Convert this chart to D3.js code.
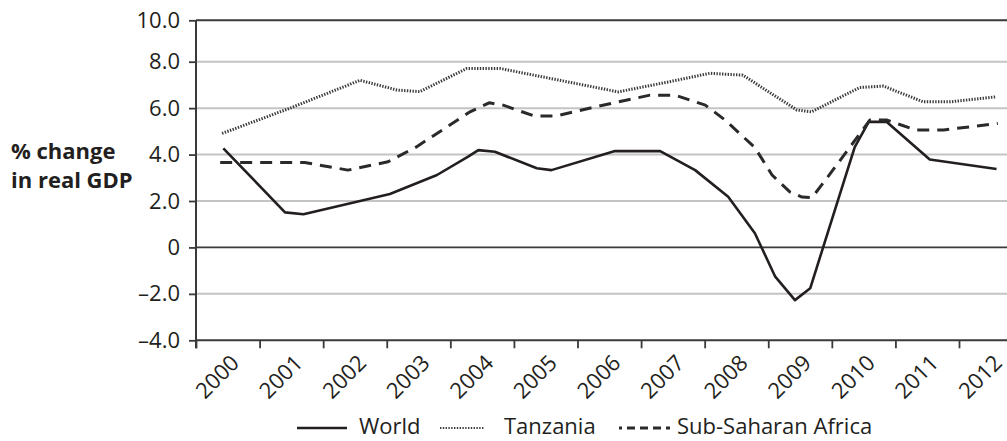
<!DOCTYPE html>
<html>
<head>
<meta charset="utf-8">
<script src="https://cdn.jsdelivr.net/npm/d3@7"></script>
<style>
  html, body { margin: 0; padding: 0; background: #fff; }
  svg { display: block; font-family: "Open Sans", sans-serif; }
</style>
</head>
<body>
<svg id="chart" width="1007" height="441"></svg>
<script>
// ---- Data (fractional-year vertices) ----
const years = [2000, 2001, 2002, 2003, 2004, 2005, 2006, 2007, 2008, 2009, 2010, 2011, 2012];
const yTicks = [-4, -2, 0, 2, 4, 6, 8, 10];

const worldX = [2000.43, 2001.40, 2001.69, 2003.05, 2003.79, 2004.28, 2004.44, 2004.70, 2005.36, 2005.59, 2006.59, 2007.30, 2007.85, 2008.37, 2008.79, 2009.11, 2009.42, 2009.66, 2010.36, 2010.58, 2010.86, 2011.54, 2012.59];
const worldY = [4.27, 1.51, 1.43, 2.30, 3.12, 3.91, 4.19, 4.12, 3.41, 3.33, 4.15, 4.15, 3.33, 2.18, 0.61, -1.26, -2.27, -1.76, 4.32, 5.41, 5.41, 3.79, 3.38];

const tanzaniaX = [2000.41, 2001.48, 2002.58, 2003.16, 2003.52, 2004.26, 2004.78, 2006.64, 2007.45, 2008.08, 2008.60, 2009.45, 2009.68, 2010.44, 2010.81, 2011.44, 2011.86, 2012.59];
const tanzaniaY = [4.91, 6.00, 7.20, 6.78, 6.71, 7.71, 7.71, 6.70, 7.14, 7.50, 7.42, 5.92, 5.84, 6.89, 6.95, 6.27, 6.27, 6.49];

const ssaX = [2000.38, 2001.71, 2002.39, 2003.02, 2003.46, 2004.31, 2004.61, 2004.83, 2005.32, 2005.66, 2006.31, 2007.14, 2007.53, 2008.01, 2008.32, 2008.79, 2009.06, 2009.34, 2009.53, 2009.69, 2009.94, 2010.29, 2010.60, 2010.86, 2011.32, 2011.76, 2012.61];
const ssaY = [3.66, 3.66, 3.33, 3.69, 4.32, 5.84, 6.23, 6.13, 5.66, 5.66, 6.07, 6.56, 6.56, 6.13, 5.49, 4.30, 3.12, 2.39, 2.17, 2.15, 3.05, 4.34, 5.49, 5.49, 5.06, 5.06, 5.34];

const seriesNames = ["World", "Tanzania", "Sub-Saharan Africa"];
const yTitle = ["% change", "in real GDP"];

// ---- Layout ----
const svg = d3.select("#chart");
const left = 196, right = 1007;
const ink = "#231f20";

const x = d3.scaleLinear().domain([2000, 2012]).range([196, 959]);
const y = d3.scaleLinear().domain([-4, 8, 10]).range([340.3, 61.7, 20.3]);

// gridlines
svg.append("g").selectAll("line").data(yTicks).join("line")
  .attr("x1", left).attr("x2", right)
  .attr("y1", d => y(d)).attr("y2", d => y(d))
  .attr("stroke", d => (d === 0 || d === 10 || d === -4) ? "#3a3a3a" : "#c4c4c4")
  .attr("stroke-width", d => d === 0 ? 1.8 : 2);

// y axis
const yAxis = d3.axisLeft(y).tickValues(yTicks).tickSize(7).tickPadding(9)
  .tickFormat(d => d === 0 ? "0" : (d < 0 ? "\u2013" : "") + d3.format(".1f")(Math.abs(d)));
const gy = svg.append("g").attr("transform", `translate(${left},0)`).call(yAxis);
gy.select(".domain").remove();
gy.selectAll(".tick line").attr("stroke", "#3a3a3a").attr("stroke-width", 1.8);
gy.selectAll(".tick text").attr("fill", ink).attr("font-size", 22)
  .attr("font-family", '"Open Sans", sans-serif');
svg.append("line").attr("x1", left).attr("x2", left).attr("y1", y(10)).attr("y2", y(-4) + 8)
  .attr("stroke", "#3a3a3a").attr("stroke-width", 2);

// x axis
const xAxis = d3.axisBottom(x).tickValues(years).tickSize(8).tickFormat(d3.format("d"));
const gx = svg.append("g").attr("transform", `translate(0,${y(-4)})`).call(xAxis);
gx.select(".domain").remove();
gx.selectAll(".tick line").attr("stroke", "#3a3a3a").attr("stroke-width", 1.8);
gx.selectAll(".tick text")
  .attr("fill", ink).attr("font-size", 22).attr("font-family", '"Open Sans", sans-serif')
  .attr("x", 0).attr("y", 0).attr("dy", null)
  .attr("text-anchor", "end")
  .attr("transform", "translate(44,24) rotate(-45)");

// y title
svg.append("g").selectAll("text").data(yTitle).join("text")
  .attr("x", 11).attr("y", (d, i) => 159 + i * 29)
  .attr("font-size", 22).attr("font-weight", "bold").attr("fill", ink)
  .text(d => d);

// lines
const line = d3.line().x(d => x(d[0])).y(d => y(d[1]));
const styles = [
  { stroke: ink, width: 2.6, dash: null },
  { stroke: "#3c3c3c", width: 3, dash: "1.4,1.4" },
  { stroke: "#2a2a2a", width: 3, dash: "12,8" }
];
const data = [
  d3.zip(worldX, worldY),
  d3.zip(tanzaniaX, tanzaniaY),
  d3.zip(ssaX, ssaY)
];
svg.append("g").selectAll("path").data(data).join("path")
  .attr("d", line)
  .attr("fill", "none")
  .attr("stroke", (d, i) => styles[i].stroke)
  .attr("stroke-width", (d, i) => styles[i].width)
  .attr("stroke-dasharray", (d, i) => styles[i].dash)
  .attr("stroke-linejoin", "round");

// legend
const legendItems = [
  { x1: 297, x2: 347, tx: 359, dash: null, stroke: ink, width: 2.6, off: 0 },
  { x1: 440, x2: 484, tx: 504, dash: "1.4,1.4", stroke: "#3c3c3c", width: 2.2, off: 0 },
  { x1: 619, x2: 670, tx: 677, dash: "8,5", stroke: "#2a2a2a", width: 3, off: 5 }
];
const lg = svg.append("g").selectAll("g").data(legendItems).join("g");
lg.append("line")
  .attr("x1", d => d.x1).attr("x2", d => d.x2).attr("y1", 428).attr("y2", 428)
  .attr("stroke", d => d.stroke).attr("stroke-width", d => d.width)
  .attr("stroke-dasharray", d => d.dash).attr("stroke-dashoffset", d => d.off);
lg.append("text")
  .attr("x", d => d.tx).attr("y", 434)
  .attr("font-size", 22).attr("fill", ink)
  .text((d, i) => seriesNames[i]);
</script>
</body>
</html>
